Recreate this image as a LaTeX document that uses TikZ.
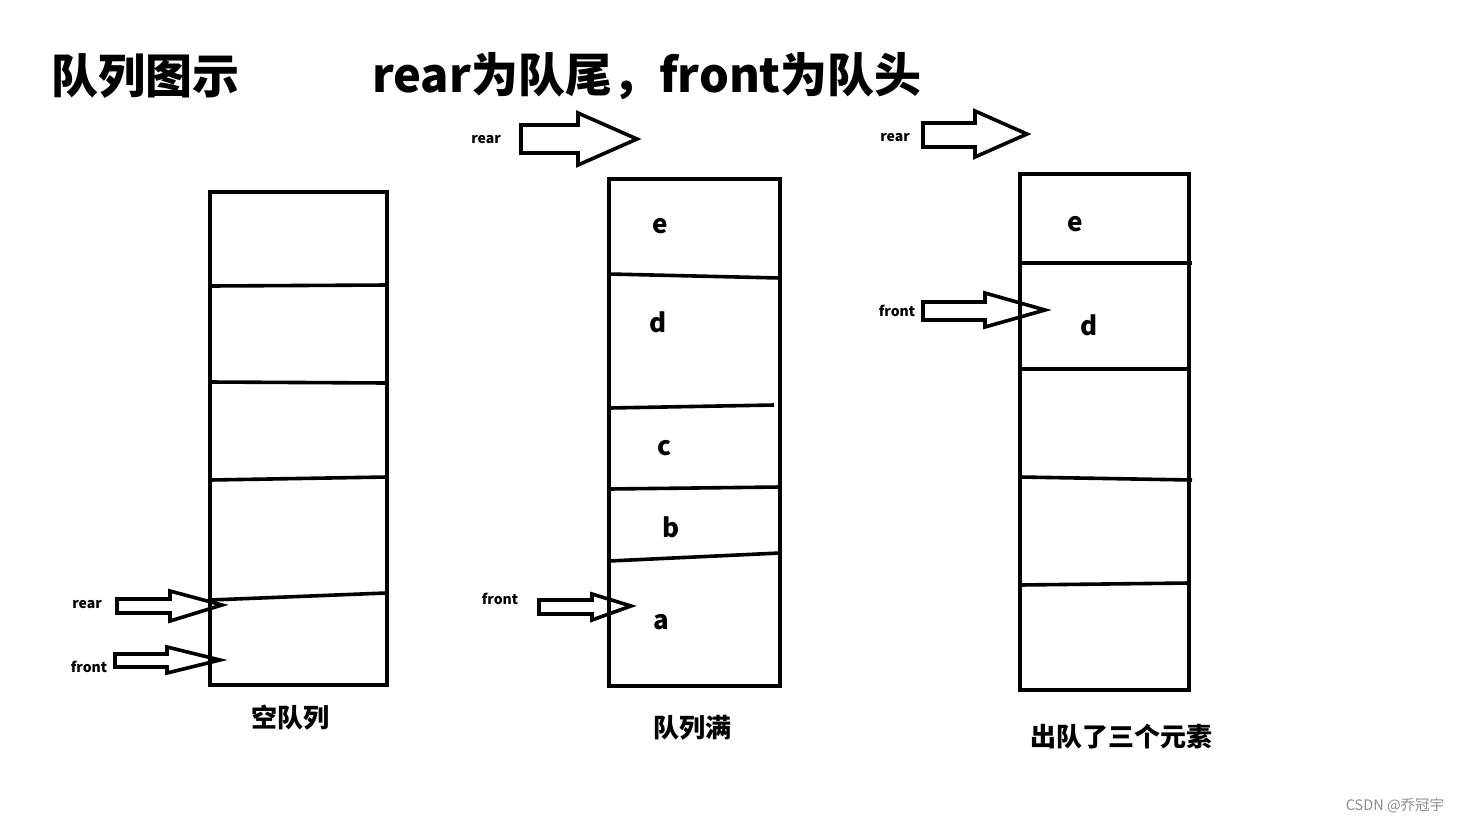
\documentclass[tikz,border=0pt]{standalone}
\usepackage{fontspec}
\setmainfont{Noto Sans CJK SC}
\begin{document}
\begin{tikzpicture}[x=1pt,y=-1pt,
  box/.style={line width=3.6pt},
  blk/.style={draw,line width=3.6pt,line join=miter,fill=white},
  lab/.style={font=\fontsize{26}{26}\selectfont\bfseries,inner sep=0pt},
  small/.style={font=\fontsize{14}{14}\selectfont\bfseries,inner sep=0pt},
  captxt/.style={font=\fontsize{26}{26}\selectfont\bfseries,inner sep=0pt},
  ttl/.style={font=\fontsize{47}{47}\selectfont\bfseries,inner sep=0pt,anchor=west}]
\useasboundingbox[fill=white] (0,0) rectangle (1460,823);
% titles
\node[ttl] (t1) at (51,76) {队列图示};
\node[ttl] (t2) at (372,76) {rear为队尾，front为队头};
% box 1
\draw[box] (210,192) rectangle (387,685);
\draw[box] (210,286) -- (387,285);
\draw[box] (210,382) -- (387,383);
\draw[box] (210,480) -- (387,477);
\draw[box] (210,600) -- (386,593);
% box 2
\draw[box] (609,179) rectangle (780,686);
\draw[box] (609,274) -- (780,278);
\draw[box] (609,408) -- (774,405);
\draw[box] (609,489) -- (780,487);
\draw[box] (609,561) -- (780,553);
% box 3
\draw[box] (1020,174) rectangle (1189,690);
\draw[box] (1020,263) -- (1192,263);
\draw[box] (1020,369) -- (1189,369);
\draw[box] (1020,477) -- (1192,480);
\draw[box] (1020,585) -- (1189,583);
% letters
\node[lab] (e1) at (660,226) {e};
\node[lab] (d1) at (658,322) {d};
\node[lab] (c1) at (664,448) {c};
\node[lab] (b1) at (671,527) {b};
\node[lab] (a1) at (661,622) {a};
\node[lab] (e2) at (1075,224) {e};
\node[lab] (d2) at (1089,325) {d};
% arrows box1
\draw[blk] (117,599) -- (170,599) -- (170,591) -- (222,605) -- (170,621) -- (170,613) -- (117,613) -- cycle;
\draw[blk] (115,654) -- (167,654) -- (167,647) -- (220,660) -- (167,673) -- (167,667) -- (115,667) -- cycle;
\node[small] (r1) at (87,605) {rear};
\node[small] (f1) at (89,667) {front};
% arrows box2
\draw[blk] (521,125) -- (578,125) -- (578,113) -- (637,139) -- (578,165) -- (578,153) -- (521,153) -- cycle;
\node[small] (r2) at (486,140) {rear};
\draw[blk] (539,600) -- (592,600) -- (592,594) -- (631,606) -- (592,620) -- (592,614) -- (539,614) -- cycle;
\node[small] (f2) at (500,599) {front};
% arrows box3
\draw[blk] (923,123) -- (975,123) -- (975,111) -- (1027,134) -- (975,157) -- (975,147) -- (923,147) -- cycle;
\node[small] (r3) at (895,138) {rear};
\draw[blk] (923,302) -- (985,302) -- (985,293) -- (1045,310) -- (985,327) -- (985,320) -- (923,320) -- cycle;
\node[small] (f3) at (897,311) {front};
% redraw box edges crossing arrows
\draw[box] (210,560) -- (210,685);
\draw[box] (609,560) -- (609,686);
\draw[box] (1020,263) -- (1020,369);
% captions
\node[captxt] (c1cap) at (290,718) {空队列};
\node[captxt] (c2cap) at (692,728) {队列满};
\node[captxt] (c3cap) at (1121,737) {出队了三个元素};
\node[font=\fontsize{14.5}{14.5}\selectfont,text=black!45,inner sep=0pt] (wm) at (1395,806) {CSDN @乔冠宇};
\end{tikzpicture}
\end{document}
